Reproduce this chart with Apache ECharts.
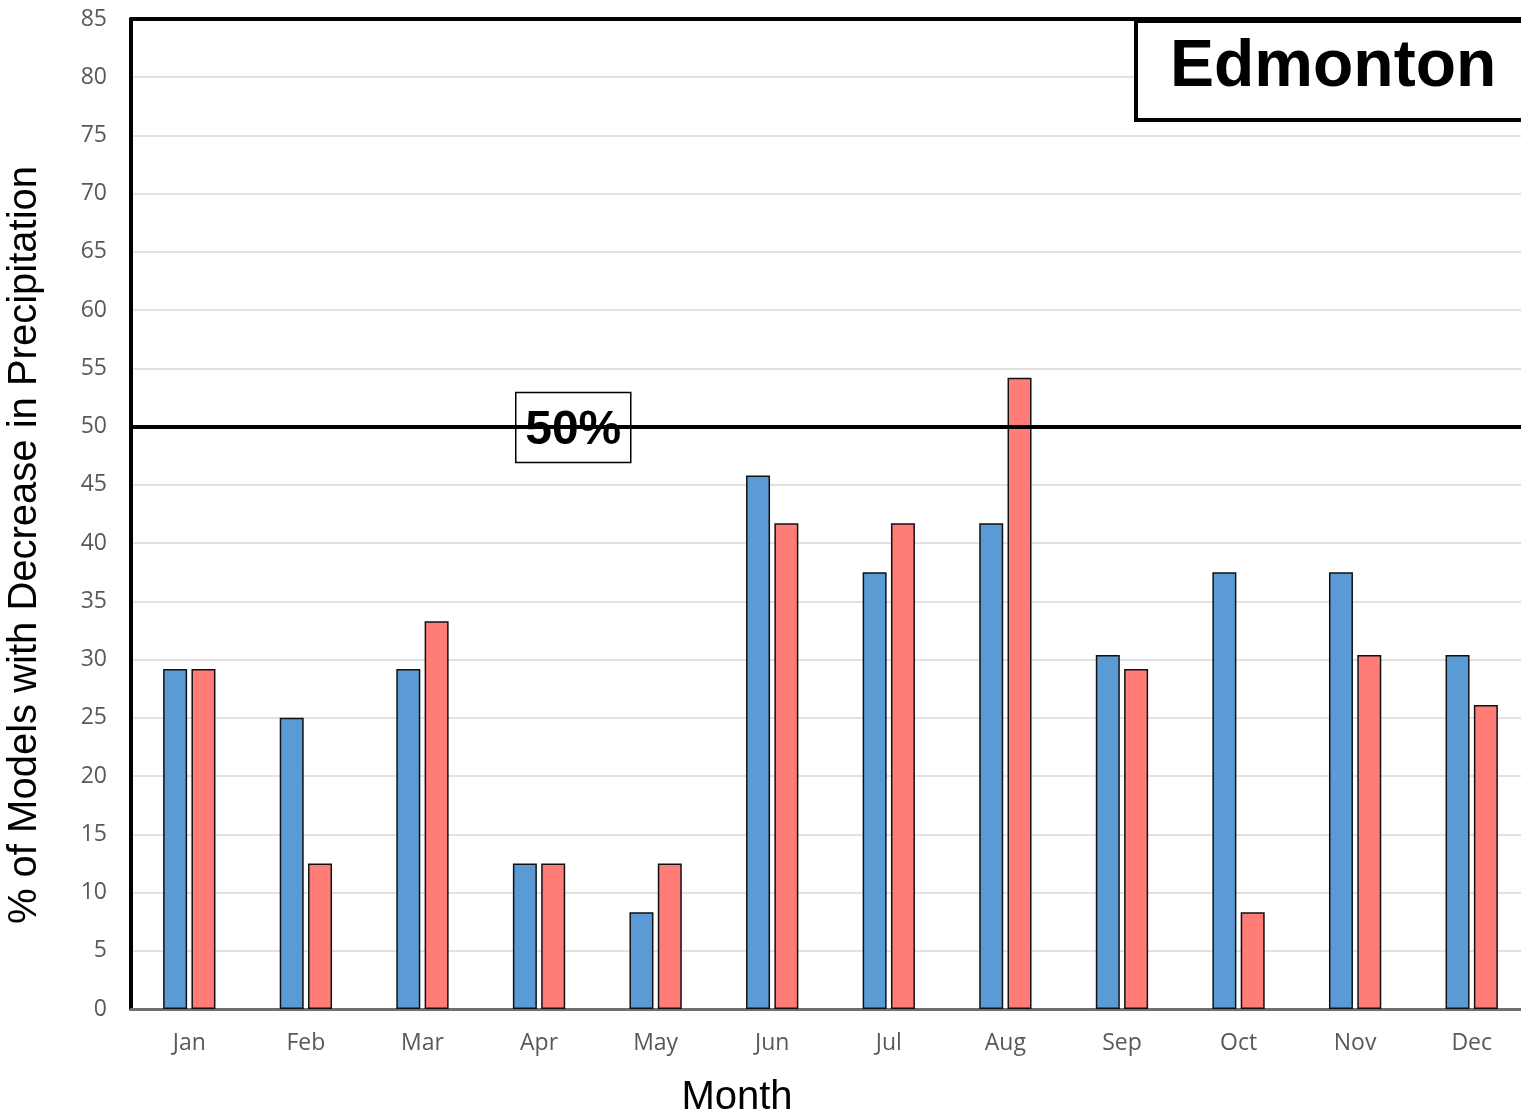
<!DOCTYPE html>
<html>
<head>
<meta charset="utf-8">
<script src="https://cdn.jsdelivr.net/npm/echarts@6/dist/echarts.min.js"></script>
<style>
  html, body { margin: 0; padding: 0; background: #fff; overflow: hidden; }
  #chart { width: 1521px; height: 1117px; }
</style>
</head>
<body>
<div id="chart"></div>
<script>
// Data
const months = ['Jan', 'Feb', 'Mar', 'Apr', 'May', 'Jun', 'Jul', 'Aug', 'Sep', 'Oct', 'Nov', 'Dec'];
const blueValues = [29.2, 25.0, 29.2, 12.5, 8.3, 45.8, 37.5, 41.7, 30.4, 37.5, 37.5, 30.4];
const redValues = [29.2, 12.5, 33.3, 12.5, 12.5, 41.7, 41.7, 54.2, 29.2, 8.3, 30.4, 26.1];
const thresholdValue = 50;

const chart = echarts.init(document.getElementById('chart'));

const labelFont = '"Open Sans", "Liberation Sans", sans-serif';
const titleFont = '"Liberation Sans", Arial, sans-serif';

chart.setOption({
    animation: false,
    backgroundColor: '#fff',
    title: {
        text: 'Edmonton',
        left: 1136,
        top: 21,
        padding: [14, 80, 19, 34],
        borderColor: '#000',
        borderWidth: 4,
        backgroundColor: '#fff',
        textStyle: {
            fontFamily: titleFont,
            fontWeight: 'bold',
            fontSize: 66,
            color: '#000'
        }
    },
    grid: {
        left: 131,
        width: 1399,
        top: 19,
        bottom: 108,
        outerBoundsMode: 'none'
    },
    xAxis: [
        {
            type: 'category',
            data: months,
            name: 'Month',
            nameLocation: 'middle',
            nameGap: 69,
            nameTextStyle: {
                fontFamily: titleFont, fontSize: 40, color: '#000',
                padding: [0, 187, 0, 0]
            },
            axisLine: { lineStyle: { color: '#6f6f6f', width: 3 } },
            axisTick: { show: false },
            axisLabel: { margin: 23, fontFamily: labelFont, fontSize: 23, color: '#595959' }
        },
        {
            type: 'category',
            data: months,
            position: 'top',
            axisLine: { lineStyle: { color: '#000', width: 4 } },
            axisTick: { show: false },
            axisLabel: { show: false }
        }
    ],
    yAxis: {
        type: 'value',
        min: 0,
        max: 85,
        interval: 5,
        name: '% of Models with Decrease in Precipitation',
        nameLocation: 'middle',
        nameGap: 86,
        nameTextStyle: {
            fontFamily: titleFont, fontSize: 40, color: '#000',
            padding: [0, 62, 0, 0]
        },
        axisLine: { show: true, lineStyle: { color: '#000', width: 4 } },
        axisTick: { show: false },
        axisLabel: { margin: 24, fontFamily: labelFont, fontSize: 23, color: '#595959' },
        splitLine: { lineStyle: { color: '#d9d9d9', width: 1.5 } }
    },
    series: [
        {
            name: 'Blue',
            type: 'bar',
            data: blueValues,
            barWidth: 24,
            barGap: '18%',
            itemStyle: { color: '#5b9bd5', borderColor: '#111', borderWidth: 1.5 }
        },
        {
            name: 'Red',
            type: 'bar',
            data: redValues,
            barWidth: 24,
            itemStyle: { color: '#ff7c77', borderColor: '#111', borderWidth: 1.5 },
            markLine: {
                silent: true,
                symbol: 'none',
                lineStyle: { color: '#000', width: 4, type: 'solid' },
                label: { show: false },
                data: [{ yAxis: thresholdValue }]
            }
        }
    ]
});

// Boxed "50%" label sitting on the threshold line
const lineY = chart.convertToPixel({ yAxisIndex: 0 }, thresholdValue);
chart.setOption({
    graphic: [{
        type: 'group',
        left: 515,
        top: lineY - 35,
        z: 100,
        children: [
            {
                type: 'rect',
                shape: { x: 0, y: 0, width: 115, height: 70 },
                style: { fill: '#fff', stroke: '#000', lineWidth: 1.5 }
            },
            {
                type: 'text',
                x: 57.5,
                y: 38,
                style: {
                    text: '50%',
                    fontFamily: titleFont,
                    fontWeight: 'bold',
                    fontSize: 48,
                    fill: '#000',
                    align: 'center',
                    verticalAlign: 'middle'
                }
            }
        ]
    }]
});
</script>
</body>
</html>
